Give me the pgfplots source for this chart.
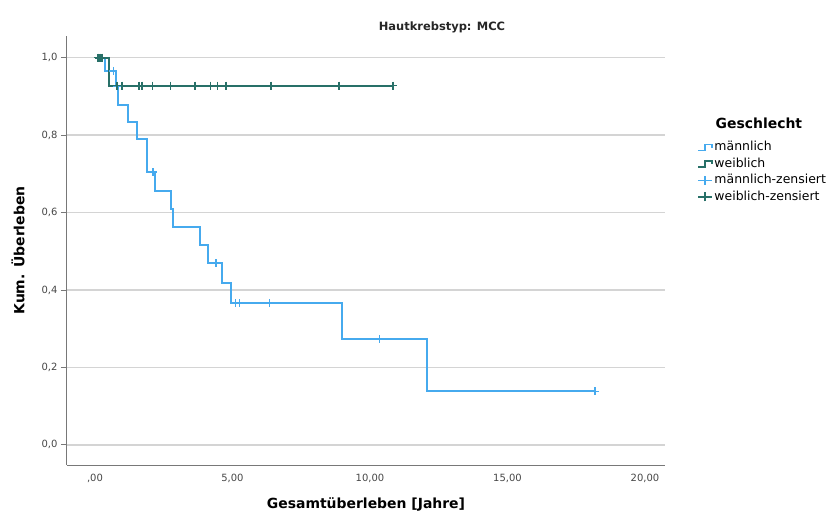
\documentclass[border=0pt]{standalone}
\usepackage{fontspec}
\setmainfont{DejaVu Sans}
\usepackage{pgfplots}
\pgfplotsset{compat=1.18}
\definecolor{mblue}{RGB}{70,170,238}
\definecolor{wgreen}{RGB}{40,112,104}
\definecolor{gridgray}{RGB}{212,212,212}
\definecolor{axgray}{RGB}{120,120,120}
\definecolor{tickgray}{RGB}{70,70,70}
\begin{document}
\begin{tikzpicture}
\path[use as bounding box] (-67bp,-50bp) rectangle (768bp,465bp);
\begin{axis}[
  at={(0,0)}, anchor=south west,
  scale only axis, width=598bp, height=429bp,
  xmin=-1.018, xmax=20.73, ymin=-0.052, ymax=1.056,
  clip=false,
  axis x line*=bottom, axis y line*=left,
  axis line style={axgray, line width=1bp, -},
  xtick={0,5,10,15,20},
  xticklabels={{,00},{5,00},{10,00},{15,00},{20,00}},
  ytick={0,0.2,0.4,0.6,0.8,1},
  yticklabels={{0,0},{0,2},{0,4},{0,6},{0,8},{1,0}},
  ymajorgrids, grid style={gridgray, line width=1.4bp},
  tick label style={font=\fontsize{10}{12}\selectfont, text=tickgray},
  x tick style={draw=none}, y tick style={axgray, line width=0.9bp},
  tick align=outside, major tick length=6bp,
  xlabel={Gesamtüberleben [Jahre]},
  ylabel={Kum. Überleben},
  xlabel style={font=\bfseries\fontsize{14}{16}\selectfont, at={(axis description cs:0.5,-0.0932)}, anchor=center},
  ylabel style={font=\bfseries\fontsize{14}{16}\selectfont, at={(axis description cs:-0.082,0.5)}, anchor=center},
  legend style={at={(1.0535,0.76)}, anchor=north west, draw=none, fill=none, inner sep=0pt, row sep=0pt,
    font=\fontsize{12.5}{14}\selectfont,
    nodes={text height=9.5bp, text depth=2.5bp, inner ysep=2.25bp, inner xsep=1.5bp}},
  legend cell align=left,
]
% männlich
\addplot[mblue, line width=2bp, const plot, forget plot] coordinates {
(0,1) (0.38,0.966) (0.75,0.926) (0.85,0.877) (1.21,0.835) (1.54,0.790) (1.88,0.704)
(2.17,0.656) (2.75,0.609) (2.82,0.562) (3.82,0.516) (4.10,0.469) (4.62,0.418)
(4.93,0.366) (8.97,0.274) (12.06,0.138) (18.18,0.138)};
\addplot[mblue, only marks, mark=+, mark size=4bp, mark options={line width=1.6bp}, forget plot] coordinates {
(0.67,0.966) (0.79,0.926) (2.10,0.704) (4.40,0.469) (5.11,0.366) (5.25,0.366) (6.34,0.366) (10.34,0.274) (18.18,0.138)};
% weiblich
\addplot[wgreen, line width=2bp, const plot, forget plot] coordinates {
(0,1) (0.52,0.928) (10.84,0.928)};
\addplot[wgreen, only marks, mark=+, mark size=4bp, mark options={line width=1.6bp}, forget plot] coordinates {
(0.10,1) (0.18,1) (0.26,1)
(0.79,0.928) (0.99,0.928) (1.60,0.928) (1.72,0.928) (2.09,0.928) (2.74,0.928) (3.64,0.928)
(4.20,0.928) (4.46,0.928) (4.76,0.928) (6.40,0.928) (8.88,0.928) (10.84,0.928)};
% legend
\addlegendimage{legend image code/.code={\draw[mblue, line width=1.8bp] (0bp,-3bp) -- (7bp,-3bp) -- (7bp,3bp) -- (14bp,3bp) -- (14bp,-0.5bp);}}
\addlegendentry{männlich}
\addlegendimage{legend image code/.code={\draw[wgreen, line width=1.8bp] (0bp,-3bp) -- (7bp,-3bp) -- (7bp,3bp) -- (14bp,3bp) -- (14bp,-0.5bp);}}
\addlegendentry{weiblich}
\addlegendimage{legend image code/.code={\draw[mblue, line width=1.6bp] (0bp,0bp) -- (14bp,0bp); \draw[mblue, line width=1.6bp] (7bp,-4.5bp) -- (7bp,4.5bp);}}
\addlegendentry{männlich-zensiert}
\addlegendimage{legend image code/.code={\draw[wgreen, line width=1.6bp] (0bp,0bp) -- (14bp,0bp); \draw[wgreen, line width=1.6bp] (7bp,-4.5bp) -- (7bp,4.5bp);}}
\addlegendentry{weiblich-zensiert}
\node[font=\bfseries\fontsize{11.5}{13}\selectfont, text=black!85] at (rel axis cs:0.627,1.021) {Hautkrebstyp: MCC};
\node[font=\bfseries\fontsize{14}{16}\selectfont] at (rel axis cs:1.157,0.797) {Geschlecht};
\end{axis}
\end{tikzpicture}
\end{document}
